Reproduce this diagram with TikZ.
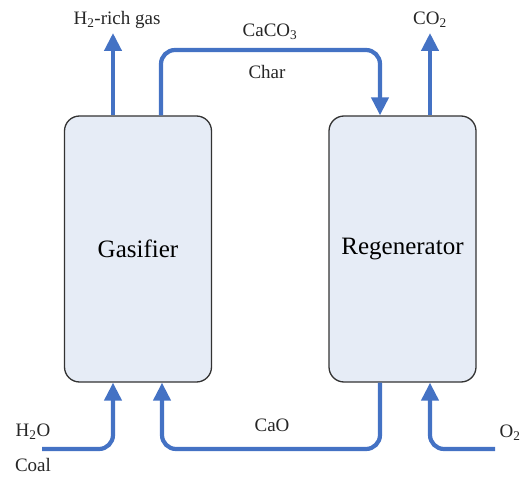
\documentclass[tikz,border=0pt]{standalone}
\usepackage{fontspec}
\setmainfont{Liberation Serif}
\newfontfamily\timesfont{Liberation Serif}
\usetikzlibrary{arrows.meta, positioning}

\definecolor{flowblue}{RGB}{68,114,196}
\definecolor{boxfill}{RGB}{230,236,246}

\begin{document}
\begin{tikzpicture}[x=1pt, y=-1pt,
            box/.style={draw=black!80, line width=1.3pt, rounded corners=15pt,
                    fill=boxfill, minimum width=147pt, minimum height=266pt,
                    align=center, font=\timesfont\fontsize{25}{28}\selectfont},
            flow/.style={line width=4.2pt, draw=flowblue, rounded corners=14pt,
                    -{Triangle[length=18pt, width=17pt]}},
            lbl/.style={inner sep=0pt, text=black!85, font=\timesfont\fontsize{19}{21}\selectfont}]
        \useasboundingbox (0,0) rectangle (524,478);
        \node[box] (gas) at (138,249) {Gasifier};
        \node[box] (reg) at (402.5,249) {Regenerator};
        % product streams
        \coordinate (h2out) at (113,33);
        \coordinate (co2out) at (430,33);
        \draw[flow] (gas.north -| h2out) -- (h2out);
        \draw[flow] (reg.north -| co2out) -- (co2out);
        % solids loop
        \coordinate (charA) at (161,50);
        \coordinate (charB) at (380,50);
        \coordinate (caoA) at (380,449);
        \coordinate (caoB) at (162,449);
        \draw[flow] (gas.north -| charA) -- (charA) -- (charB) -- (reg.north -| charB);
        \draw[flow] (reg.south -| caoA) -- (caoA) -- (caoB) -- (gas.south -| caoB);
        % feeds
        \coordinate (h2oin) at (42,449);
        \coordinate (o2in) at (495,449);
        \draw[flow] (h2oin) -| (gas.south -| h2out);
        \draw[flow] (o2in) -| (reg.south -| co2out);
        % labels
        \node[lbl] (h2lbl) at (117,20) {H\textsubscript{2}-rich gas};
        \node[lbl] (co2lbl) at (430,20) {CO\textsubscript{2}};
        \node[lbl] (caco3lbl) at (270,32) {CaCO\textsubscript{3}};
        \node[lbl] (charlbl) at (267,72) {Char};
        \node[lbl] (caolbl) at (272,425) {CaO};
        \node[lbl] (h2olbl) at (33,432) {H\textsubscript{2}O};
        \node[lbl] (coallbl) at (33,465) {Coal};
        \node[lbl] (o2lbl) at (510,433) {O\textsubscript{2}};
    \end{tikzpicture}
\end{document}
